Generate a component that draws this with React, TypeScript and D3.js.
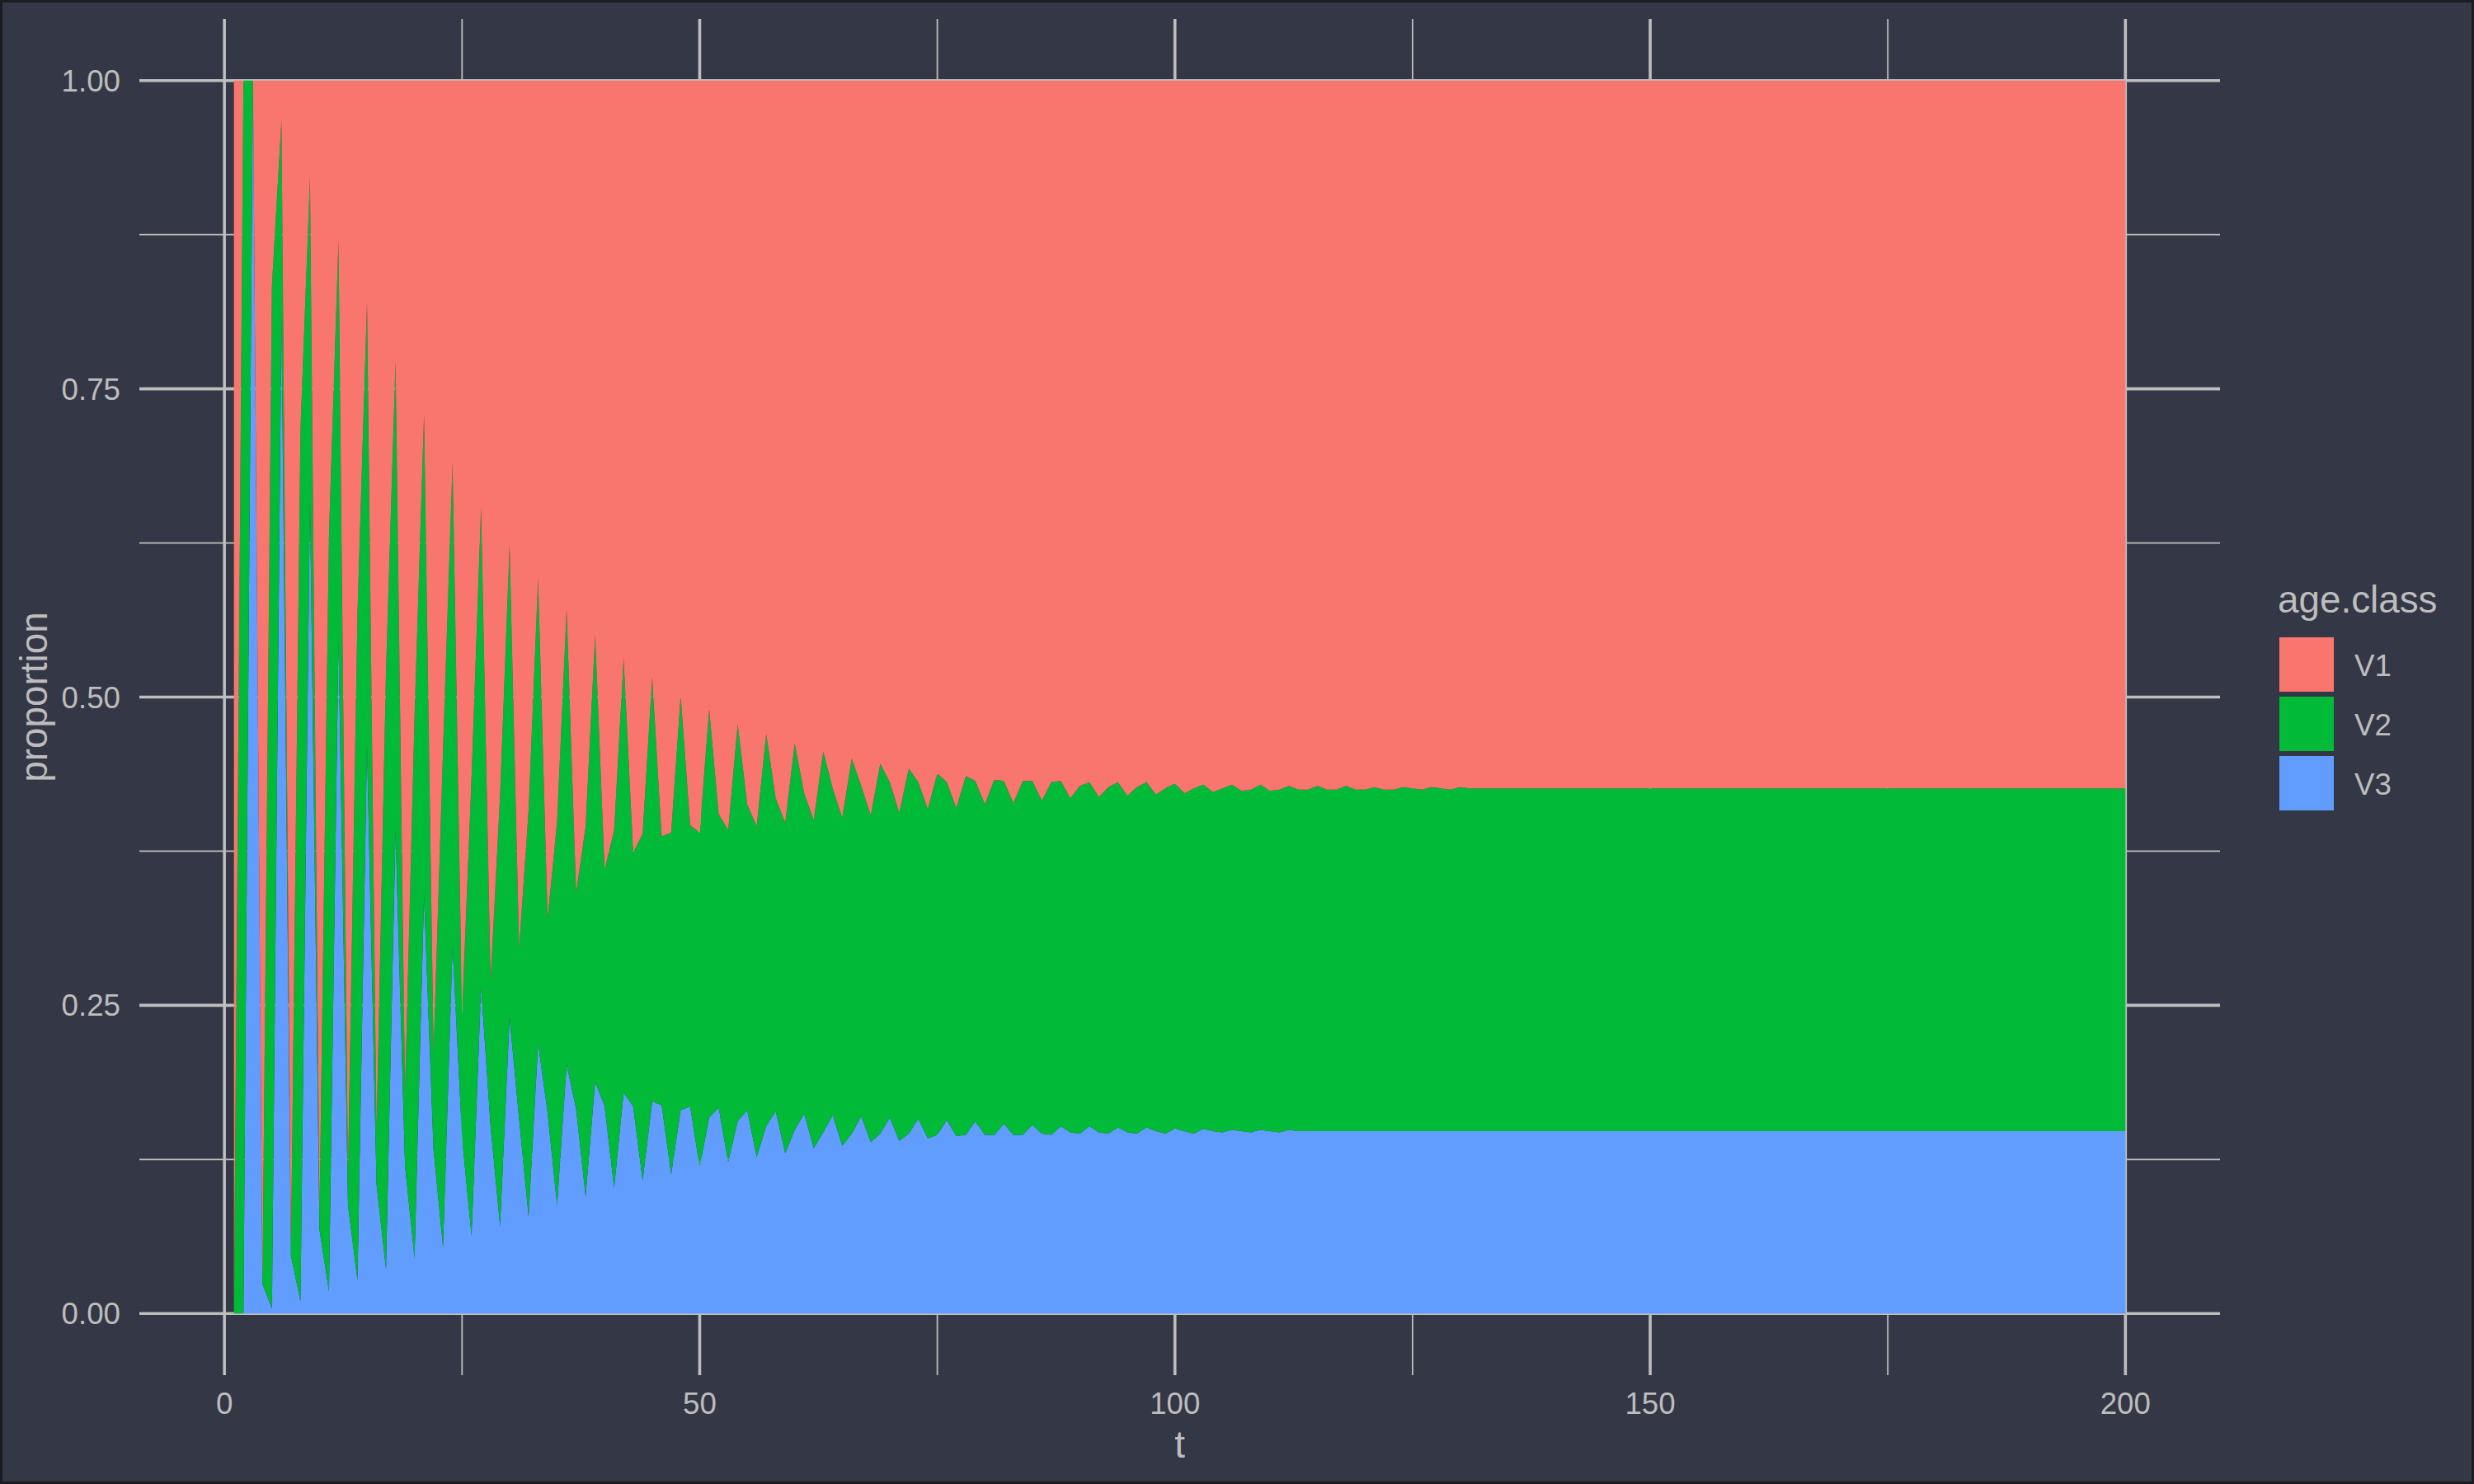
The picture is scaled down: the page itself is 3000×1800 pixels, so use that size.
import * as d3 from 'd3';

// proportion of the population in each age class, t = 1..200
const V1 = [
  1, 0, 0, 0.976, 0.166, 0.032, 0.948, 0.283, 0.079, 0.918,
  0.368, 0.13, 0.886, 0.431, 0.18, 0.853, 0.479, 0.228, 0.82, 0.516,
  0.271, 0.788, 0.543, 0.31, 0.758, 0.565, 0.346, 0.73, 0.58, 0.377,
  0.704, 0.592, 0.404, 0.68, 0.601, 0.429, 0.659, 0.605, 0.45, 0.64,
  0.608, 0.469, 0.626, 0.611, 0.484, 0.613, 0.61, 0.499, 0.604, 0.61,
  0.51, 0.595, 0.608, 0.522, 0.587, 0.605, 0.53, 0.582, 0.602, 0.538,
  0.578, 0.6, 0.544, 0.574, 0.598, 0.55, 0.572, 0.596, 0.554, 0.569,
  0.594, 0.558, 0.569, 0.591, 0.562, 0.569, 0.59, 0.564, 0.568, 0.587,
  0.567, 0.568, 0.586, 0.568, 0.568, 0.584, 0.569, 0.568, 0.582, 0.572,
  0.569, 0.581, 0.573, 0.569, 0.58, 0.573, 0.569, 0.579, 0.574, 0.57,
  0.578, 0.574, 0.571, 0.577, 0.574, 0.571, 0.576, 0.575, 0.571, 0.576,
  0.575, 0.572, 0.575, 0.575, 0.572, 0.575, 0.575, 0.572, 0.575, 0.575,
  0.573, 0.575, 0.575, 0.573, 0.574, 0.575, 0.573, 0.574, 0.575, 0.573,
  0.574, 0.574, 0.574, 0.574, 0.574, 0.574, 0.574, 0.574, 0.574, 0.574,
  0.574, 0.574, 0.574, 0.574, 0.574, 0.574, 0.574, 0.574, 0.574, 0.574,
  0.574, 0.574, 0.574, 0.574, 0.574, 0.574, 0.574, 0.574, 0.574, 0.574,
  0.574, 0.574, 0.574, 0.574, 0.574, 0.574, 0.574, 0.574, 0.574, 0.574,
  0.574, 0.574, 0.574, 0.574, 0.574, 0.574, 0.574, 0.574, 0.574, 0.574,
  0.574, 0.574, 0.574, 0.574, 0.574, 0.574, 0.574, 0.574, 0.574, 0.574,
  0.574, 0.574, 0.574, 0.574, 0.574, 0.574, 0.574, 0.574, 0.574, 0.574,
];

const V2 = [
  0, 1, 0, 0, 0.83, 0.161, 0.005, 0.707, 0.262, 0.014,
  0.614, 0.325, 0.026, 0.542, 0.361, 0.042, 0.485, 0.381, 0.06, 0.439,
  0.39, 0.079, 0.403, 0.392, 0.099, 0.372, 0.389, 0.118, 0.349, 0.383,
  0.138, 0.329, 0.377, 0.157, 0.311, 0.369, 0.175, 0.3, 0.362, 0.192,
  0.29, 0.352, 0.206, 0.281, 0.344, 0.218, 0.277, 0.336, 0.228, 0.271,
  0.331, 0.238, 0.269, 0.322, 0.248, 0.268, 0.318, 0.254, 0.268, 0.313,
  0.26, 0.266, 0.309, 0.265, 0.266, 0.304, 0.268, 0.265, 0.3, 0.272,
  0.266, 0.296, 0.273, 0.267, 0.293, 0.274, 0.266, 0.291, 0.276, 0.268,
  0.288, 0.278, 0.269, 0.287, 0.279, 0.27, 0.286, 0.28, 0.271, 0.282,
  0.279, 0.272, 0.281, 0.28, 0.273, 0.281, 0.28, 0.273, 0.28, 0.28,
  0.274, 0.28, 0.279, 0.275, 0.279, 0.28, 0.276, 0.278, 0.28, 0.276,
  0.278, 0.279, 0.277, 0.277, 0.28, 0.277, 0.277, 0.28, 0.277, 0.277,
  0.279, 0.277, 0.277, 0.279, 0.278, 0.277, 0.279, 0.278, 0.277, 0.279,
  0.278, 0.278, 0.278, 0.278, 0.278, 0.278, 0.278, 0.278, 0.278, 0.278,
  0.278, 0.278, 0.278, 0.278, 0.278, 0.278, 0.278, 0.278, 0.278, 0.278,
  0.278, 0.278, 0.278, 0.278, 0.278, 0.278, 0.278, 0.278, 0.278, 0.278,
  0.278, 0.278, 0.278, 0.278, 0.278, 0.278, 0.278, 0.278, 0.278, 0.278,
  0.278, 0.278, 0.278, 0.278, 0.278, 0.278, 0.278, 0.278, 0.278, 0.278,
  0.278, 0.278, 0.278, 0.278, 0.278, 0.278, 0.278, 0.278, 0.278, 0.278,
  0.278, 0.278, 0.278, 0.278, 0.278, 0.278, 0.278, 0.278, 0.278, 0.278,
];

const V3 = [
  0, 0, 1, 0.024, 0.004, 0.807, 0.047, 0.01, 0.659, 0.068,
  0.018, 0.545, 0.088, 0.027, 0.459, 0.105, 0.036, 0.391, 0.12, 0.045,
  0.339, 0.133, 0.054, 0.298, 0.143, 0.063, 0.265, 0.152, 0.071, 0.24,
  0.158, 0.079, 0.219, 0.163, 0.088, 0.202, 0.166, 0.095, 0.188, 0.168,
  0.102, 0.179, 0.168, 0.108, 0.172, 0.169, 0.113, 0.165, 0.168, 0.119,
  0.159, 0.167, 0.123, 0.156, 0.165, 0.127, 0.152, 0.164, 0.13, 0.149,
  0.162, 0.134, 0.147, 0.161, 0.136, 0.146, 0.16, 0.139, 0.146, 0.159,
  0.14, 0.146, 0.158, 0.142, 0.145, 0.157, 0.144, 0.145, 0.156, 0.145,
  0.145, 0.154, 0.145, 0.145, 0.153, 0.146, 0.145, 0.152, 0.147, 0.146,
  0.152, 0.147, 0.146, 0.151, 0.147, 0.146, 0.151, 0.148, 0.146, 0.15,
  0.148, 0.146, 0.15, 0.148, 0.147, 0.149, 0.148, 0.147, 0.149, 0.148,
  0.147, 0.149, 0.148, 0.148, 0.148, 0.148, 0.148, 0.148, 0.148, 0.148,
  0.148, 0.148, 0.148, 0.148, 0.148, 0.148, 0.148, 0.148, 0.148, 0.148,
  0.148, 0.148, 0.148, 0.148, 0.148, 0.148, 0.148, 0.148, 0.148, 0.148,
  0.148, 0.148, 0.148, 0.148, 0.148, 0.148, 0.148, 0.148, 0.148, 0.148,
  0.148, 0.148, 0.148, 0.148, 0.148, 0.148, 0.148, 0.148, 0.148, 0.148,
  0.148, 0.148, 0.148, 0.148, 0.148, 0.148, 0.148, 0.148, 0.148, 0.148,
  0.148, 0.148, 0.148, 0.148, 0.148, 0.148, 0.148, 0.148, 0.148, 0.148,
  0.148, 0.148, 0.148, 0.148, 0.148, 0.148, 0.148, 0.148, 0.148, 0.148,
  0.148, 0.148, 0.148, 0.148, 0.148, 0.148, 0.148, 0.148, 0.148, 0.148,
];

const AGE_CLASSES = ['V1', 'V2', 'V3'];
const CLASS_COLORS = ['#F8766D', '#00BA38', '#619CFF'];
const T = d3.range(1, V1.length + 1);

const Y_TICKS = [0, 0.25, 0.5, 0.75, 1];
const Y_MINOR = [0.125, 0.375, 0.625, 0.875];
const X_TICKS = [0, 50, 100, 150, 200];
const X_MINOR = [25, 75, 125, 175];

const BG = '#343745';
const GRID = '#bebebe';
const TEXT = '#bdbdbd';
const FONT = '"Liberation Sans", Arial, Helvetica, sans-serif';

export default function App() {
  const width = 3000;
  const height = 1800;
  const panel = { left: 169, right: 2692, top: 23, bottom: 1668 };

  // ggplot-style 5% expansion on both axes
  const [t0, t1] = d3.extent(T) as [number, number];
  const tPad = (t1 - t0) * 0.05;
  const x = d3.scaleLinear().domain([t0 - tPad, t1 + tPad]).range([panel.left, panel.right]);
  const y = d3.scaleLinear().domain([-0.05, 1.05]).range([panel.bottom, panel.top]);

  const rows = T.map((t, i) => ({ t, V1: V1[i], V2: V2[i], V3: V3[i] }));
  const color = d3.scaleOrdinal<string, string>().domain(AGE_CLASSES).range(CLASS_COLORS);

  // V1 on top, V3 at the bottom
  const series = d3.stack<any>().keys([...AGE_CLASSES].reverse())(rows);
  const area = d3
    .area<any>()
    .x((d) => x(d.data.t))
    .y0((d) => y(d[0]))
    .y1((d) => y(d[1]));

  const legend = { x: 2764, titleY: 743, keyY: 773, key: 66, step: 72 };

  return (
    <svg
      width={width}
      height={height}
      style={{ position: 'absolute', left: 0, top: 0, display: 'block' }}
      fontFamily={FONT}
    >
      <rect x={0} y={0} width={width} height={height} fill={BG} />

      {/* grid */}
      {Y_MINOR.map((v) => (
        <line key={`ym${v}`} x1={panel.left} x2={panel.right} y1={y(v)} y2={y(v)} stroke={GRID} strokeWidth={1.8} />
      ))}
      {X_MINOR.map((v) => (
        <line key={`xm${v}`} x1={x(v)} x2={x(v)} y1={panel.top} y2={panel.bottom} stroke={GRID} strokeWidth={1.8} />
      ))}
      {Y_TICKS.map((v) => (
        <line key={`y${v}`} x1={panel.left} x2={panel.right} y1={y(v)} y2={y(v)} stroke={GRID} strokeWidth={3.6} />
      ))}
      {X_TICKS.map((v) => (
        <line key={`x${v}`} x1={x(v)} x2={x(v)} y1={panel.top} y2={panel.bottom} stroke={GRID} strokeWidth={3.6} />
      ))}

      {/* stacked areas */}
      {series.map((s) => (
        <path key={s.key} d={area(s) || ''} fill={color(s.key)} />
      ))}

      {/* axis labels */}
      {Y_TICKS.map((v) => (
        <text key={`yl${v}`} x={146} y={y(v) + 13} textAnchor="end" fontSize={36.7} fill={TEXT}>
          {d3.format('.2f')(v)}
        </text>
      ))}
      {X_TICKS.map((v) => (
        <text key={`xl${v}`} x={x(v)} y={1715} textAnchor="middle" fontSize={36.7} fill={TEXT}>
          {v}
        </text>
      ))}
      <text x={(panel.left + panel.right) / 2} y={1768} textAnchor="middle" fontSize={45.8} fill={TEXT}>
        t
      </text>
      <text
        transform={`translate(57,${(panel.top + panel.bottom) / 2}) rotate(-90)`}
        textAnchor="middle"
        fontSize={45.8}
        fill={TEXT}
      >
        proportion
      </text>

      {/* legend */}
      <text x={legend.x - 2} y={legend.titleY} fontSize={45.8} fill={TEXT}>
        age.class
      </text>
      {AGE_CLASSES.map((k, i) => (
        <g key={k} transform={`translate(${legend.x},${legend.keyY + i * legend.step})`}>
          <rect width={legend.key} height={legend.key} fill={color(k)} />
          <text x={91} y={legend.key / 2 + 14} fontSize={36.7} fill={TEXT}>
            {k}
          </text>
        </g>
      ))}

      <rect x={1.5} y={1.5} width={width - 3} height={height - 3} fill="none" stroke="#1b1c22" strokeWidth={3} />
    </svg>
  );
}
